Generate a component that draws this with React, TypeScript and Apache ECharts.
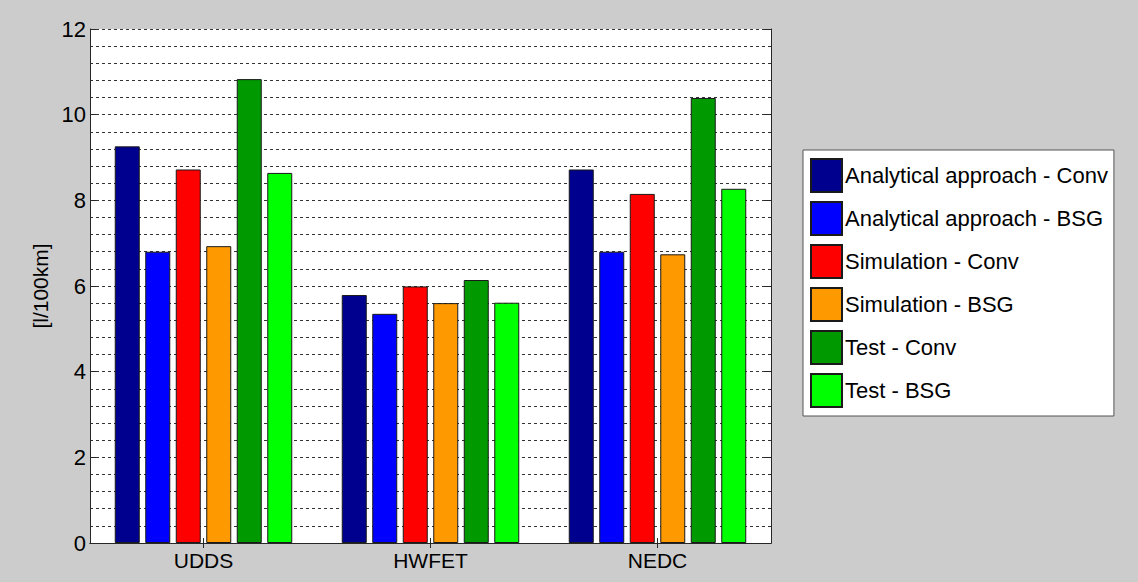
import React, { useEffect, useRef } from "react";
import * as echarts from "echarts";

// Driving cycles on the category axis
const categories = ["UDDS", "HWFET", "NEDC"];

// Fuel consumption, l/100km, per cycle
const analyticalConv = [9.26, 5.79, 8.72];
const analyticalBSG = [6.8, 5.35, 6.8];
const simulationConv = [8.72, 5.99, 8.15];
const simulationBSG = [6.93, 5.6, 6.74];
const testConv = [10.83, 6.14, 10.39];
const testBSG = [8.64, 5.61, 8.27];

const seriesNames = [
  "Analytical approach - Conv",
  "Analytical approach - BSG",
  "Simulation - Conv",
  "Simulation - BSG",
  "Test - Conv",
  "Test - BSG",
];
const seriesValues = [analyticalConv, analyticalBSG, simulationConv, simulationBSG, testConv, testBSG];
const seriesColors = ["#00008f", "#0000ff", "#ff0000", "#ff9900", "#009900", "#00ff00"];

const yTicks = { min: 0, max: 12, interval: 2 };

const FONT = 'Arial, "Liberation Sans", sans-serif';

export default function App() {
  const ref = useRef<HTMLDivElement>(null);

  useEffect(() => {
    if (!ref.current) return;
    const chart = echarts.init(ref.current, undefined, { renderer: "svg" });
    const axisLine = { show: true, lineStyle: { color: "#262626", width: 1 } };
    const dash = { type: [3, 3] as number[], color: "#333", width: 1 };

    chart.setOption({
      animation: false,
      backgroundColor: "#cccccc",
      grid: {
        left: 90,
        top: 29,
        width: 681,
        height: 514,
        show: true,
        backgroundColor: "#ffffff",
        borderWidth: 0,
      },
      legend: {
        orient: "vertical",
        left: 803,
        top: 150,
        padding: [8, 6, 8, 7],
        itemWidth: 31,
        itemHeight: 33,
        itemGap: 8,
        icon: "rect",
        backgroundColor: "#ffffff",
        borderColor: "#555",
        borderWidth: 1,
        textStyle: { fontFamily: FONT, fontSize: 22, color: "#000", padding: [0, 0, 0, -2] },
        data: seriesNames,
      },
      xAxis: [
        {
          type: "category",
          data: categories,
          position: "bottom",
          axisLine,
          axisTick: { show: true, inside: true, alignWithLabel: true, length: 5, lineStyle: { color: "#262626" } },
          axisLabel: { fontFamily: FONT, fontSize: 21, color: "#000", margin: 7 },
          splitLine: { show: false },
        },
        {
          type: "category",
          data: categories,
          position: "top",
          axisLine,
          axisTick: { show: true, inside: true, alignWithLabel: true, length: 5, lineStyle: { color: "#262626" } },
          axisLabel: { show: false },
          splitLine: { show: false },
        },
      ],
      yAxis: [
        {
          type: "value",
          ...yTicks,
          position: "left",
          name: "[l/100km]",
          nameLocation: "middle",
          nameRotate: 90,
          nameGap: 34,
          nameTextStyle: { fontFamily: FONT, fontSize: 21, color: "#000" },
          axisLine,
          axisTick: { show: true, inside: true, length: 6, lineStyle: { color: "#262626" } },
          axisLabel: { fontFamily: FONT, fontSize: 22, color: "#000", margin: 4 },
          splitLine: { show: true, lineStyle: dash },
          minorTick: { show: false, splitNumber: 5 },
          minorSplitLine: { show: true, lineStyle: dash },
        },
        {
          type: "value",
          ...yTicks,
          position: "right",
          axisLine,
          axisTick: { show: true, inside: true, length: 6, lineStyle: { color: "#262626" } },
          axisLabel: { show: false },
          splitLine: { show: false },
        },
      ],
      series: seriesNames.map((name, i) => ({
        name,
        type: "bar",
        xAxisIndex: 0,
        yAxisIndex: 0,
        data: seriesValues[i],
        barWidth: 25,
        barGap: "22%",
        itemStyle: { color: seriesColors[i], borderColor: "#1a1a1a", borderWidth: 1 },
      })),
    });

    return () => chart.dispose();
  }, []);

  return (
    <div
      ref={ref}
      style={{ position: "absolute", left: 0, top: 0, width: 1138, height: 582 }}
    />
  );
}
